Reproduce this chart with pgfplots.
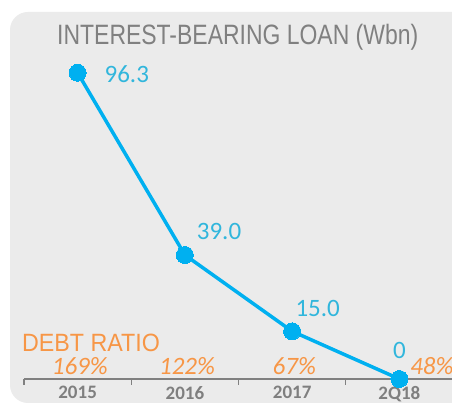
\documentclass[border=0pt]{standalone}
\usepackage{pgfplots}
\pgfplotsset{compat=1.18}
\usepackage{fontspec}
\setmainfont{Carlito}
\newfontfamily\arialf{Liberation Sans}
\definecolor{bg}{HTML}{EBEBEB}
\definecolor{linec}{HTML}{00B0F0}
\definecolor{labc}{HTML}{31B6DC}
\definecolor{orng}{HTML}{F79646}
\definecolor{grayt}{HTML}{808080}
\definecolor{grayy}{HTML}{7F7F7F}
\begin{document}
\begin{tikzpicture}[x=1pt,y=1pt]
\fill[white] (0,0) rectangle (452,406);
\fill[bg, rounded corners=18pt] (10,3) rectangle (480,394);
\node[anchor=base west, inner sep=0, text=grayt] at (57,361)
  {\scalebox{0.82}[1]{\arialf\fontsize{28}{30}\selectfont INTEREST-BEARING LOAN (Wbn)}};
\begin{axis}[
  at={(24pt,27pt)}, anchor=south west,
  scale only axis, width=429pt, height=318pt,
  xmin=-0.5, xmax=3.5, ymin=0, ymax=100,
  axis x line*=bottom, axis y line=none,
  axis line style={grayt, line width=1.6pt},
  xtick={0,1,2,3}, xticklabels={2015,2016,2017,2Q18},
  major tick length=0pt,
  minor xtick={-0.5,0.5,1.5,2.5},
  minor tick length=6pt,
  tick align=outside,
  minor tick style={grayt, line width=1.4pt},
  xticklabel style={font=\fontsize{19}{21}\selectfont\bfseries, text=grayy, yshift=-4pt},
  ytick=\empty,
  clip=false,
]
\addplot[linec, line width=3.5pt, mark=*, mark size=8.5pt, mark options={fill=linec, draw=linec, line width=0pt}]
  coordinates {(0,96.3) (1,39.0) (2,15.0) (3,0)};
\tikzset{lab/.style={text=labc, font=\fontsize{25}{27}\selectfont, inner sep=0}}
\node[lab, anchor=west] at (axis cs:0.25,96.0) {96.3};
\node[lab, anchor=west] at (axis cs:1.11,46.5) {39.0};
\node[lab, anchor=west] at (axis cs:2.03,22.2) {15.0};
\node[lab] at (axis cs:3,9.0) {0};
\tikzset{pct/.style={text=orng, font=\fontsize{25}{27}\selectfont\itshape, inner sep=0}}
\node[pct] at (axis cs:0.02,4.2) {169\%};
\node[pct] at (axis cs:1.02,4.2) {122\%};
\node[pct] at (axis cs:2.02,4.2) {67\%};
\node[pct, anchor=west] at (axis cs:3.10,4.2) {48\%};
\node[anchor=base west, inner sep=0, text=orng] at (axis cs:-0.52,8.8)
  {\scalebox{0.93}[1]{\arialf\fontsize{25}{27}\selectfont DEBT RATIO}};
\end{axis}
\pgfresetboundingbox
\useasboundingbox (0,0) rectangle (452,406);
\end{tikzpicture}
\end{document}
